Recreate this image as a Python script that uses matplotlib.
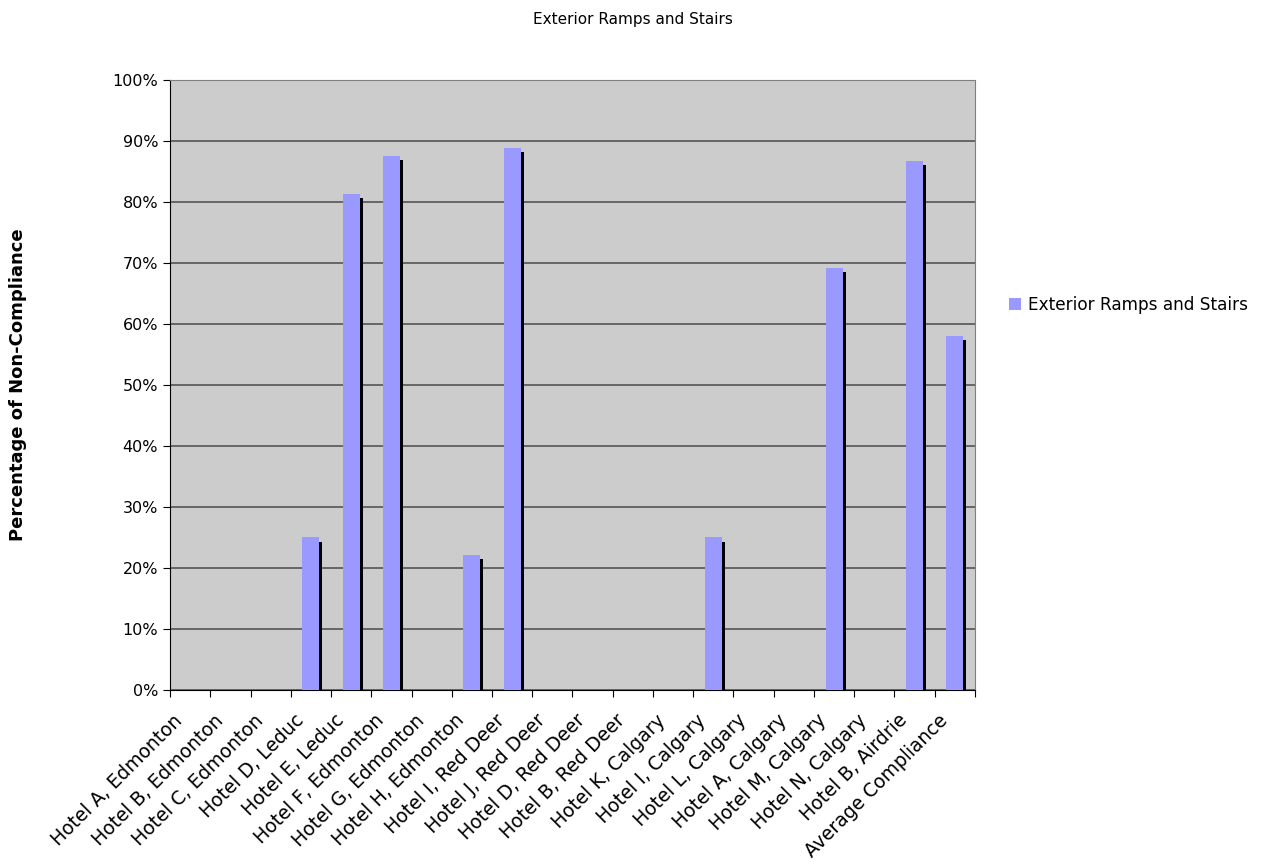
import numpy as np
import matplotlib.pyplot as plt
import matplotlib.transforms as mtransforms
from matplotlib.patches import Patch

hotels = [
    "Hotel A, Edmonton", "Hotel B, Edmonton", "Hotel C, Edmonton", "Hotel D, Leduc",
    "Hotel E, Leduc", "Hotel F, Edmonton", "Hotel G, Edmonton", "Hotel H, Edmonton",
    "Hotel I, Red Deer", "Hotel J, Red Deer", "Hotel D, Red Deer", "Hotel B, Red Deer",
    "Hotel K, Calgary", "Hotel I, Calgary", "Hotel L, Calgary", "Hotel A, Calgary",
    "Hotel M, Calgary", "Hotel N, Calgary", "Hotel B, Airdrie", "Average Compliance",
]
non_compliance = [0, 0, 0, 25.0, 81.25, 87.5, 0, 22.2, 88.9, 0, 0, 0,
                  0, 25.0, 0, 0, 69.2, 0, 86.7, 58.0]
series_name = "Exterior Ramps and Stairs"

plt.rcParams["font.family"] = ["DejaVu Sans"]

fig = plt.figure(figsize=(12.66, 8.67), dpi=100)
ax = fig.add_axes([0.1343, 0.2042, 0.6358, 0.7035])
ax.set_facecolor("#cccccc")

x = np.arange(len(hotels))
vals = np.array(non_compliance)
width = 0.42
# drop shadow behind each bar, nudged right and down
shadow = np.clip(vals - 0.66, 0, None)
ax.bar(x + 0.075, shadow, width=width, color="black", zorder=2)
ax.bar(x, vals, width=width, color="#9999ff", zorder=3)

ax.set_xlim(-0.5, len(hotels) - 0.5)
ax.set_ylim(0, 100)
ax.set_yticks(np.arange(0, 101, 10))
ax.set_yticklabels([f"{v}%" for v in range(0, 101, 10)], fontsize=11.5)
ax.yaxis.grid(True, color="#555555", linewidth=1.2, zorder=1)
ax.set_axisbelow(True)

# category boundaries carry the tick marks, labels sit at the centers
ax.set_xticks(np.arange(-0.5, len(hotels), 1.0))
ax.set_xticklabels([])
ax.set_xticks(x, minor=True)
ax.set_xticklabels(hotels, minor=True, rotation=45, ha="right",
                   rotation_mode="anchor", fontsize=13.5)
ax.tick_params(axis="x", which="minor", length=0, pad=15)
ax.tick_params(axis="x", which="major", length=5, color="#000000")
ax.tick_params(axis="y", length=5)
shift = mtransforms.ScaledTranslation(-17 / 100, 0, fig.dpi_scale_trans)
for lbl in ax.get_xticklabels(minor=True):
    lbl.set_transform(lbl.get_transform() + shift)

for side in ("top", "right"):
    ax.spines[side].set_color("#808080")
ax.spines["left"].set_color("#000000")
ax.spines["bottom"].set_color("#000000")

fig.text(0.5, 0.978, series_name, ha="center", va="center", fontsize=11)
fig.text(0.0142, 0.556, "Percentage of Non-Compliance", rotation=90,
         ha="center", va="center", fontsize=13, fontweight="bold")

fig.legend(handles=[Patch(facecolor="#9999ff", label=series_name)],
           loc="center left", bbox_to_anchor=(0.785, 0.648), frameon=False,
           fontsize=12.2, handlelength=0.7, handleheight=0.7, handletextpad=0.4)

fig.savefig("out.png", dpi=100)
